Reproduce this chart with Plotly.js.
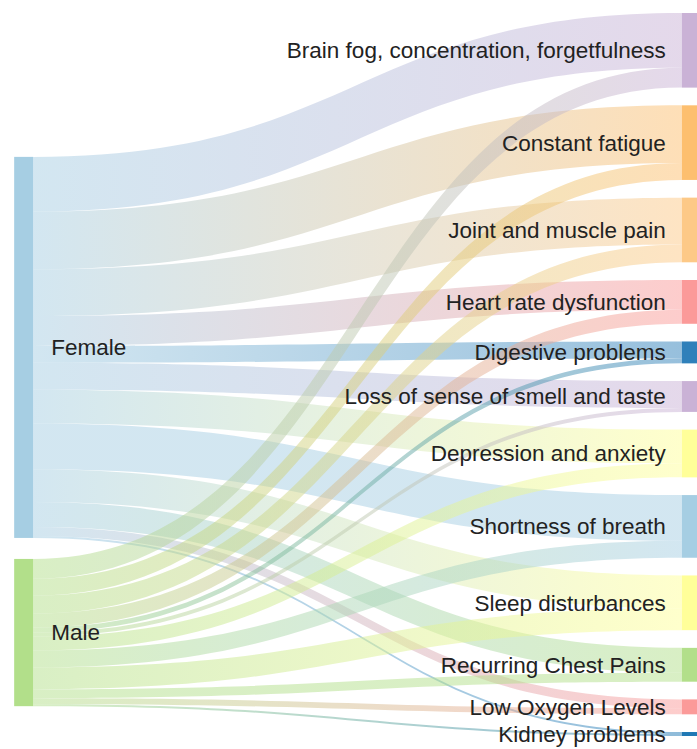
<!DOCTYPE html>
<html>
<head>
<meta charset="utf-8">
<script src="https://cdn.plot.ly/plotly-3.0.1.min.js"></script>
<style>
html,body{margin:0;padding:0;background:#fff;overflow:hidden;width:697px;height:749px;}
#chart{width:710px;height:749px;}
</style>
</head>
<body>
<div id="chart"></div>
<script>
// ---- data ----
var sources = ["Female", "Male"];
var symptoms = [
  "Brain fog, concentration, forgetfulness",
  "Constant fatigue",
  "Joint and muscle pain",
  "Heart rate dysfunction",
  "Digestive problems",
  "Loss of sense of smell and taste",
  "Depression and anxiety",
  "Shortness of breath",
  "Sleep disturbances",
  "Recurring Chest Pains",
  "Low Oxygen Levels",
  "Kidney problems"
];
var femaleValues = [55, 58, 47, 30, 17, 27, 34, 46, 33, 25, 9, 2];
var maleValues   = [20, 17, 18, 14, 5, 4, 14, 17, 22, 9, 6, 2];

var sourceColors  = ["#a6cee3", "#b2df8a"];
var symptomColors = ["#cab2d6", "#fdbf6f", "#fdc987", "#fb9a99", "#2f80ba", "#cab2d6",
                     "#ffff99", "#a6cee3", "#ffff99", "#b2df8a", "#fb9a99", "#1f78b4"];

// ---- build sankey ----
var labels = sources.concat(symptoms);
var nodeColors = sourceColors.concat(symptomColors);
var linkSource = [], linkTarget = [], linkValue = [];
symptoms.forEach(function (s, i) { linkSource.push(0); linkTarget.push(i + 2); linkValue.push(femaleValues[i]); });
symptoms.forEach(function (s, i) { linkSource.push(1); linkTarget.push(i + 2); linkValue.push(maleValues[i]); });

var W = 710, Hpx = 749, mt = 13, mb = 13, ml = 23, mr = 18;
var H = Hpx - mt - mb;
var pad = 17.7;
var leftGap = 21;
var n = symptoms.length;
var totals = symptoms.map(function (s, i) { return femaleValues[i] + maleValues[i]; });
var grand = totals.reduce(function (a, b) { return a + b; }, 0);
var ky = (H - (n - 1) * pad) / grand;

var nodeX = [], nodeY = [];
var femaleTotal = femaleValues.reduce(function (a, b) { return a + b; }, 0);
var maleTotal = maleValues.reduce(function (a, b) { return a + b; }, 0);
var leftTop = 0.199 * H;
nodeX.push(0.001); nodeY.push((leftTop + femaleTotal * ky / 2) / H);
nodeX.push(0.001); nodeY.push((leftTop + femaleTotal * ky + leftGap + maleTotal * ky / 2) / H);
var acc = 0;
totals.forEach(function (t, i) {
  nodeX.push(0.999);
  nodeY.push((acc + i * pad + t * ky / 2) / H);
  acc += t * ky;
});

var data = [{
  type: "sankey",
  arrangement: "fixed",
  orientation: "h",
  node: {
    label: labels,
    color: nodeColors,
    x: nodeX,
    y: nodeY,
    pad: pad,
    thickness: 19,
    line: { width: 0 }
  },
  link: {
    source: linkSource,
    target: linkTarget,
    value: linkValue,
    color: linkTarget.map(function (t) { return "rgba(200,200,200,0.5)"; }),
    line: { width: 0 }
  },
  textfont: { family: "Liberation Sans, Arial, sans-serif", size: 22.5, color: "#222", shadow: "none" }
}];

var layout = {
  width: W, height: Hpx,
  margin: { l: ml, r: mr, t: mt, b: mb },
  paper_bgcolor: "#fff",
  font: { family: "Liberation Sans, Arial, sans-serif" }
};

var gd = document.getElementById("chart");
Plotly.newPlot(gd, data, layout, { staticPlot: true, displayModeBar: false }).then(function () {
  var ns = "http://www.w3.org/2000/svg";
  var svg = gd.querySelector("svg.main-svg");
  var defs = svg.querySelector("defs") || svg.insertBefore(document.createElementNS(ns, "defs"), svg.firstChild);
  var paths = gd.querySelectorAll("path.sankey-link");
  paths.forEach(function (p, k) {
    var d = p.__data__;
    var s = linkSource[k], t = linkTarget[k];
    if (d && d.link && d.link.source && d.link.source.pointNumber !== undefined) {
      s = d.link.source.pointNumber; t = d.link.target.pointNumber;
    }
    var g = document.createElementNS(ns, "linearGradient");
    g.setAttribute("id", "lg" + k);
    g.setAttribute("x1", "0"); g.setAttribute("x2", "1");
    g.setAttribute("y1", "0"); g.setAttribute("y2", "0");
    [[0, nodeColors[s]], [1, nodeColors[t]]].forEach(function (st) {
      var e = document.createElementNS(ns, "stop");
      e.setAttribute("offset", st[0]);
      e.setAttribute("stop-color", st[1]);
      e.setAttribute("stop-opacity", "0.5");
      g.appendChild(e);
    });
    defs.appendChild(g);
    p.style.fill = "url(#lg" + k + ")";
    p.style.fillOpacity = "1";
  });
  // move labels further away from the nodes
  gd.querySelectorAll("text.node-label").forEach(function (tx) {
    var isLeft = sources.indexOf(tx.textContent) >= 0;
    var dx = isLeft ? 15 : -13;
    var tr = tx.getAttribute("transform") || "";
    tx.setAttribute("transform", "translate(" + dx + ",0) " + tr);
  });
});
</script>
</body>
</html>
